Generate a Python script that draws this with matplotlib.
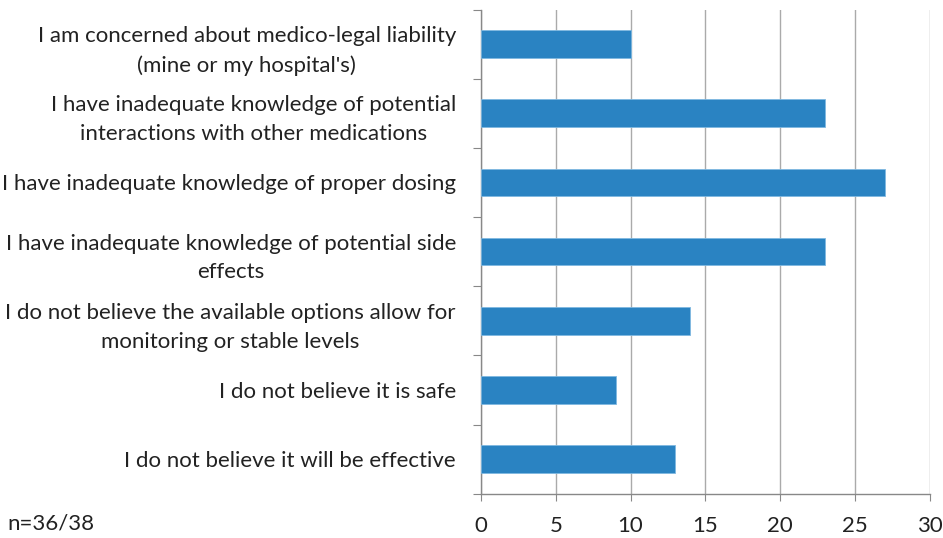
import numpy as np
import matplotlib.pyplot as plt

# --- Data ---
labels = [
    "I am concerned about medico-legal liability\n(mine or my hospital's)",
    "I have inadequate knowledge of potential\ninteractions with other medications",
    "I have inadequate knowledge of proper dosing",
    "I have inadequate knowledge of potential side\neffects",
    "I do not believe the available options allow for\nmonitoring or stable levels",
    "I do not believe it is safe",
    "I do not believe it will be effective",
]
counts = [10, 23, 27, 23, 14, 9, 13]
note = "n=36/38"

bar_color = "#2a83c2"
plt.rcParams["font.family"] = ["Lato", "DejaVu Sans"]

fig = plt.figure(figsize=(9.43, 5.38), dpi=100)
ax = fig.add_axes([0.510, 0.0823, 0.476, 0.900])

n = len(labels)
y = np.arange(n)[::-1]
ax.barh(y, counts, height=0.4, color=bar_color, edgecolor="#7fb8e0", linewidth=0.6, zorder=3)

ax.set_xlim(0, 30)
ax.set_ylim(-0.5, n - 0.5)
ax.set_xticks(np.arange(0, 31, 5))
ax.tick_params(axis="x", labelsize=16, length=5, color="#888888", pad=11, labelcolor="#222222")

# category boundaries as ticks, labels centred between them
ax.set_yticks(np.arange(-0.5, n, 1.0))
ax.set_yticklabels([])
ax.tick_params(axis="y", which="major", length=6, color="#888888")
ax.set_yticks(y, minor=True)
ax.set_yticklabels(labels, minor=True, fontsize=16.0, color="#222222",
                   multialignment="center", linespacing=1.55)
ax.tick_params(axis="y", which="minor", length=0, pad=18)

ax.grid(axis="x", color="#aaaaaa", linewidth=1.0, zorder=0)
for s in ["top", "right"]:
    ax.spines[s].set_visible(False)
for s in ["left", "bottom"]:
    ax.spines[s].set_color("#888888")
    ax.spines[s].set_linewidth(1.0)

fig.text(0.008, 0.008, note, fontsize=16, color="#222222", ha="left", va="bottom")

fig.savefig("out.png", dpi=100)
